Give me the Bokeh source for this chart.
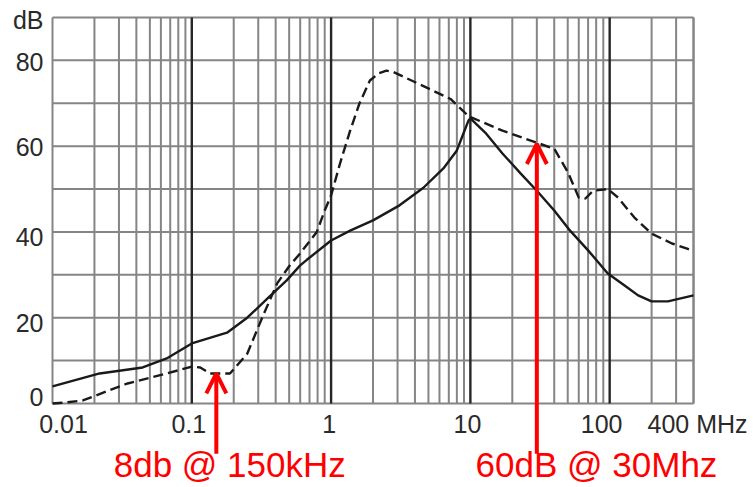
from bokeh.plotting import figure
from bokeh.models import Range1d, Arrow, OpenHead
from bokeh.core.properties import value
from bokeh.embed import file_html
from bokeh.resources import INLINE

# ---- data ----
solid_freq = [0.01, 0.0218, 0.0444, 0.066, 0.1, 0.179, 0.25, 0.35, 0.48, 0.6, 0.67,
              1.0, 1.37, 2.0, 3.1, 4.6, 6.4, 8.0, 8.9, 9.7, 10.0, 13, 17, 23, 30, 40,
              52, 70, 97, 128, 160, 200, 262, 400]
solid_db = [4, 7, 8.4, 10.5, 14, 16.5, 20, 24.5, 28.7, 32.2, 33.5,
            38, 40.3, 42.7, 46.2, 50.3, 54.8, 59, 62.9, 66, 66.5, 62.9, 58.3, 53.6, 49.6, 45,
            40.3, 35.7, 30.3, 27.5, 25.2, 23.8, 23.8, 25.2]

dash_freq = [0.01, 0.012, 0.0165, 0.034, 0.066, 0.1, 0.115, 0.135, 0.188, 0.25, 0.32,
             0.41, 0.5, 0.6, 0.79, 0.9, 1.0, 1.16, 1.37, 1.6, 1.9, 2.2, 2.5, 2.8, 4.2,
             7.2, 9.7, 10.0, 17, 30, 40, 50, 60, 67, 76, 97, 115, 150, 200, 280, 360, 400]
dash_db = [0, 0.2, 0.7, 4.6, 7, 8.6, 8.4, 7, 7, 11.6, 20,
           28, 32, 35, 40, 45, 48.5, 56, 63.6, 70, 75.3, 77, 77.6, 77.3, 74.6,
           71, 67, 66.8, 63.6, 60.8, 59.4, 54, 48, 47.8, 49.6, 50, 48, 43.4, 39.6, 37.3, 36.1, 35.5]

x_ticks = [0.01, 0.1, 1, 10, 100, 400]
x_tick_labels = ["0.01", "0.1", "1", "10", "100", "400 MHz"]
y_ticks = [0, 20, 40, 60, 80, 90]
y_tick_labels = ["0", "20", "40", "60", "80", "dB"]

decades = [0.1, 1, 10, 100]
minor_lines = [m * d for d in [0.01, 0.1, 1, 10, 100] for m in range(1, 10)
               if m * d <= 400 and not (m == 1 and d > 0.01)] + [400]
y_grid = [0, 10, 20, 30, 40, 50, 60, 70, 80, 90]

ann1_text, ann1_freq, ann1_db = "8db @ 150kHz", 0.15, 7
ann2_text, ann2_freq, ann2_db = "60dB @ 30Mhz", 30, 60.5

# ---- layout / style ----
FONT = value("Liberation Sans")
X_MIN, X_MAX = 0.01, 400
Y_MIN, Y_MAX = 0, 90
# the frame covers the whole canvas so that labels and arrows below the
# chart box are not clipped; the chart box and its grid are drawn bounded
xr = Range1d(0.004233, 1078)
yr = Range1d(-19.59, 93.96)

p = figure(width=753, height=487, x_axis_type="log", x_range=xr, y_range=yr,
           output_backend="svg", toolbar_location=None,
           min_border=0, min_border_left=0, min_border_right=0,
           min_border_top=0, min_border_bottom=0)
p.background_fill_color = "white"
p.border_fill_color = "white"
p.outline_line_color = None
p.xaxis.visible = False
p.yaxis.visible = False
p.grid.visible = False

# grid (bounded to the chart box)
p.segment(x0=minor_lines, y0=[Y_MIN] * len(minor_lines), x1=minor_lines,
          y1=[Y_MAX] * len(minor_lines), line_color="#858585", line_width=2)
p.segment(x0=[X_MIN] * len(y_grid), y0=y_grid, x1=[X_MAX] * len(y_grid), y1=y_grid,
          line_color="#858585", line_width=2)
p.segment(x0=decades, y0=[Y_MIN] * len(decades), x1=decades, y1=[Y_MAX] * len(decades),
          line_color="#262626", line_width=2.4)

# tick labels (placed through the plot's scales)
x_label_y = -4.9
p.text(x=x_ticks, y=[x_label_y] * len(x_ticks), text=x_tick_labels,
       x_offset=[11, -3, -2, -3, -8, 4], text_align="center", text_baseline="middle",
       text_font=FONT, text_font_size="25px", text_color="#2a2a2a")
p.text(x=[X_MIN] * len(y_ticks), y=y_ticks, text=y_tick_labels,
       x_offset=-9, y_offset=[-6, 5, 5, 1, 2, 3], text_align="right", text_baseline="middle",
       text_font=FONT, text_font_size="25px", text_color="#2a2a2a")

# curves
p.line(solid_freq, solid_db, line_color="#1a1a1a", line_width=2.4)
p.line(dash_freq, dash_db, line_color="#1a1a1a", line_width=2.4, line_dash="10 5")

# annotations
for f, db in ((ann1_freq, ann1_db), (ann2_freq, ann2_db)):
    p.add_layout(Arrow(end=OpenHead(line_color="red", line_width=4, size=20),
                       x_start=f, y_start=-11.7, x_end=f, y_end=db,
                       line_color="red", line_width=4))
p.text(x=[0.0275, 10.9], y=[-14.2, -14.2], text=[ann1_text, ann2_text],
       text_align="left", text_baseline="middle",
       text_font=FONT, text_font_size="35px", text_color="red")

open("out.html", "w").write(file_html(p, INLINE))
